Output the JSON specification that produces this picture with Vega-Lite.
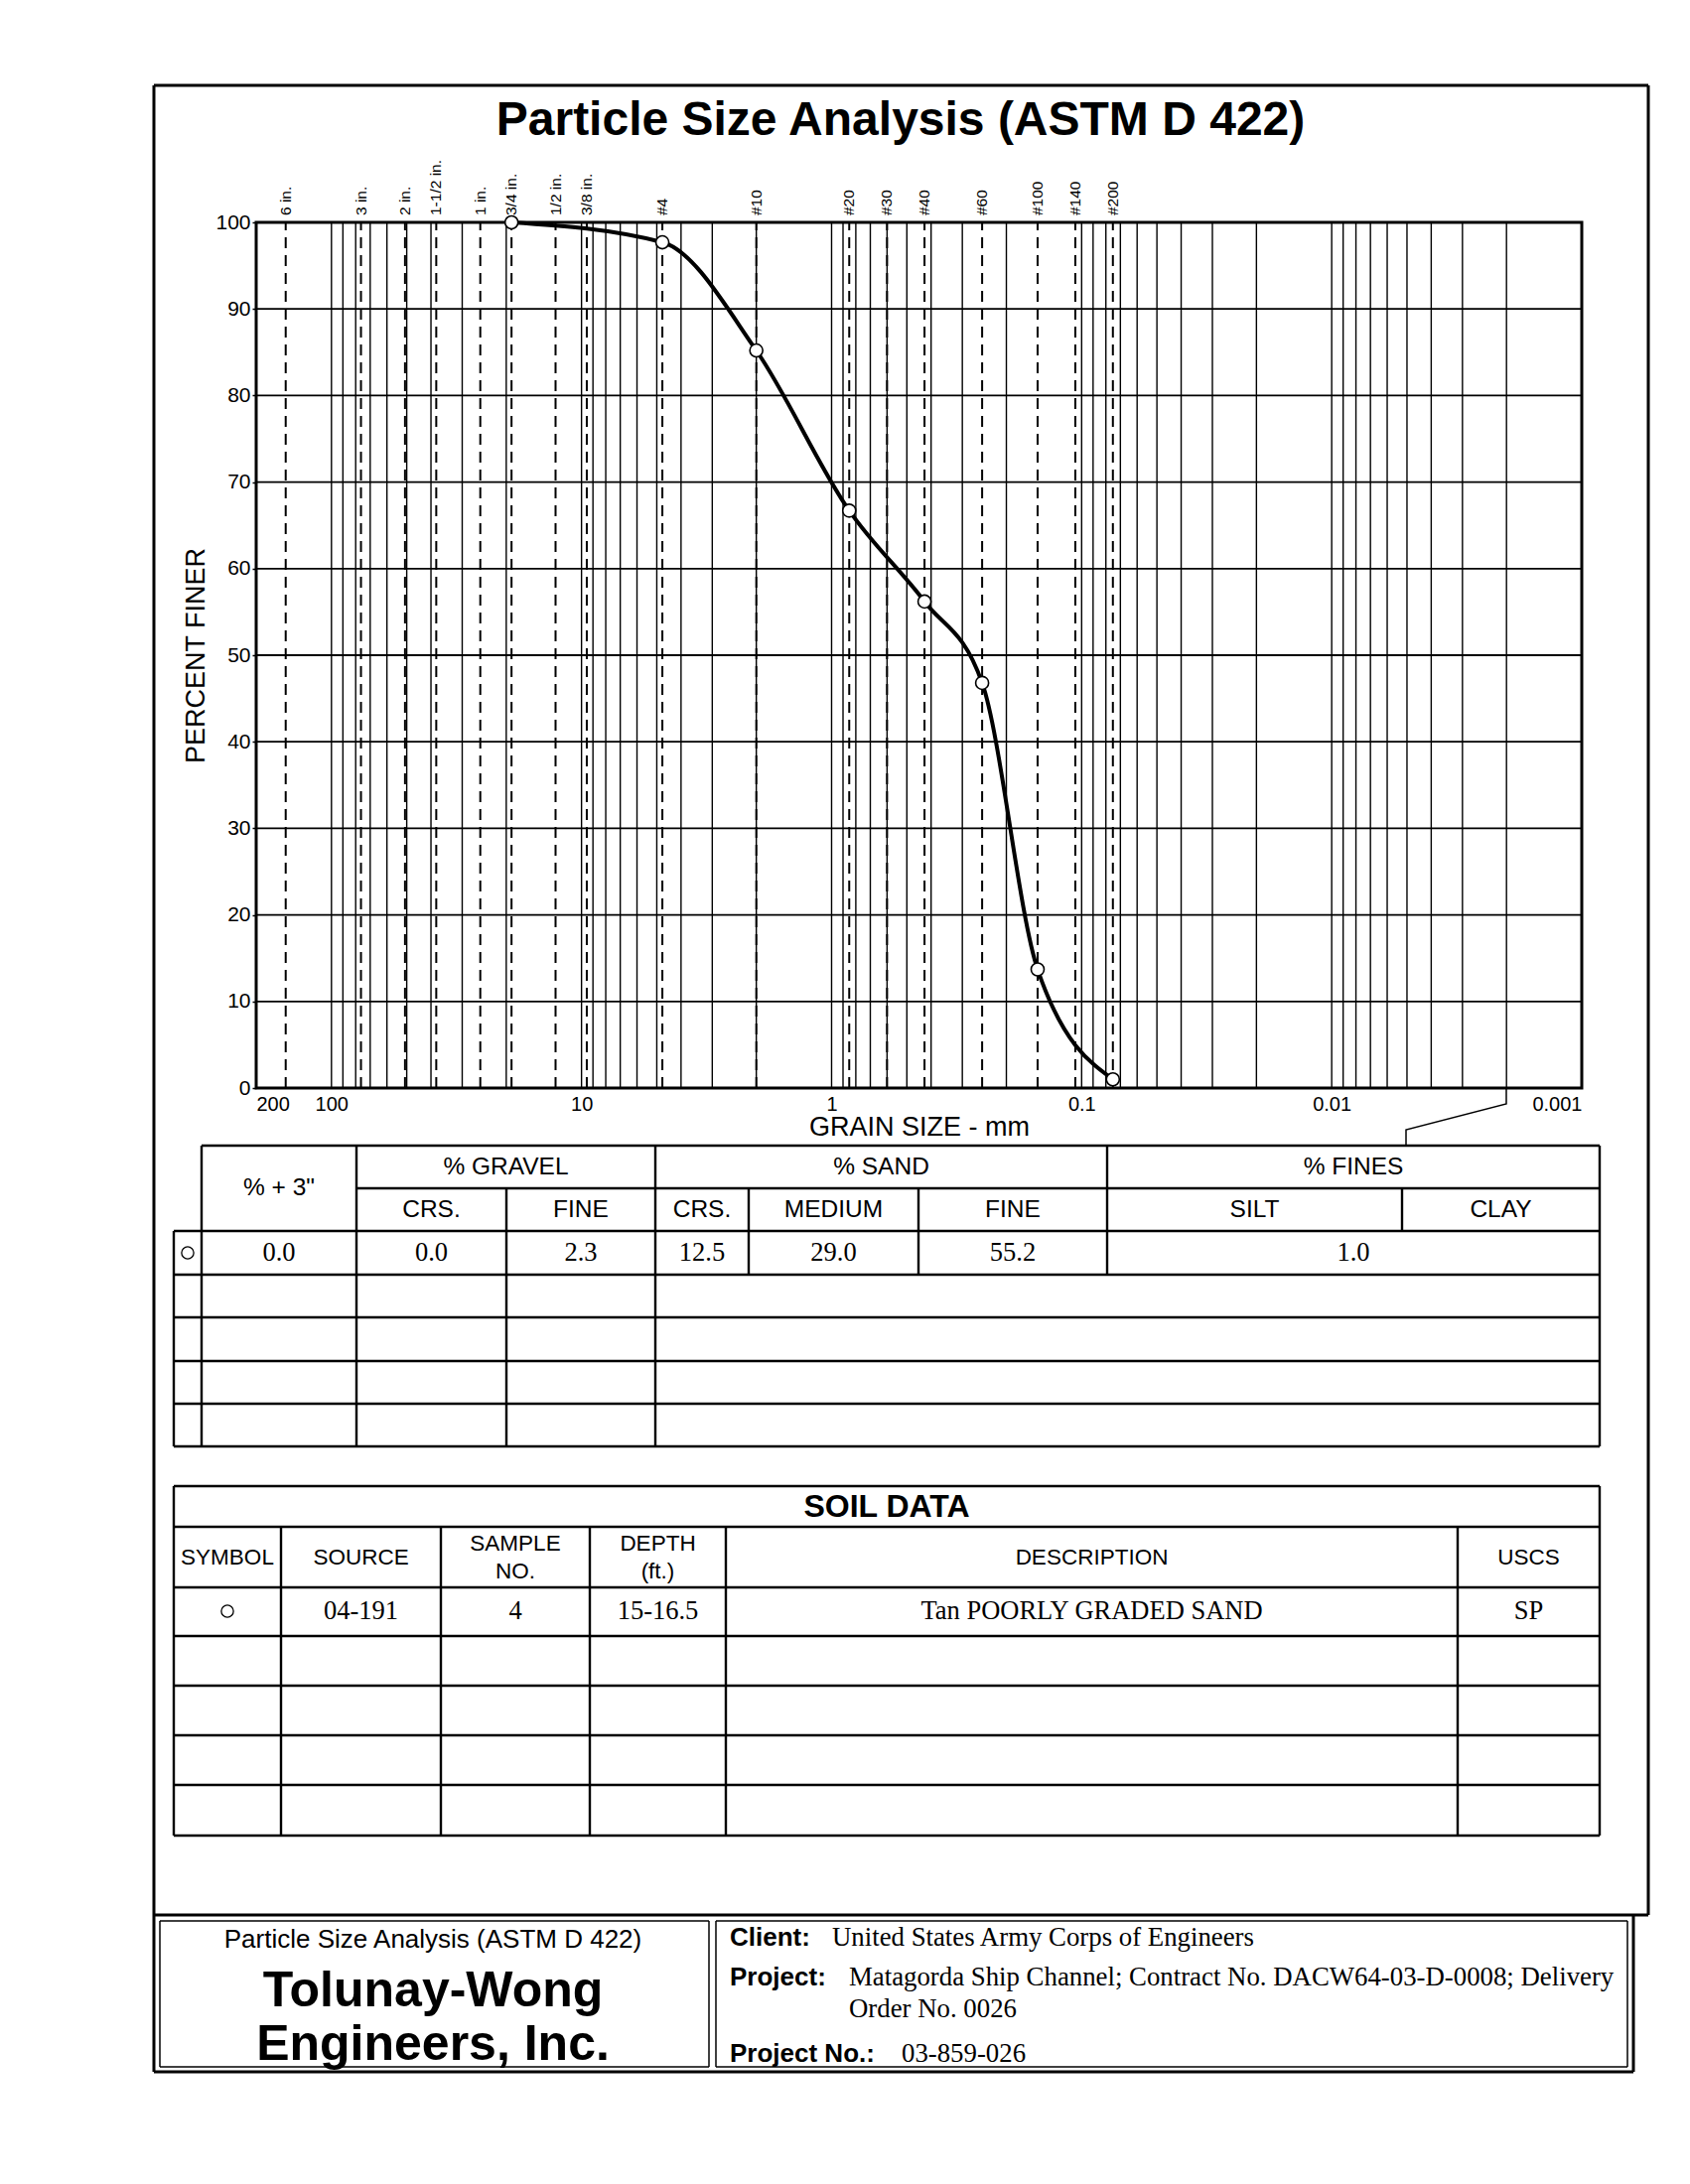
{
  "$schema": "https://vega.github.io/schema/vega-lite/v6.json",
  "autosize": {"type": "none"},
  "padding": {"left": 258, "top": 224, "right": 109, "bottom": 1104},
  "width": 1335,
  "height": 872,
  "background": "white",
  "config": {
    "view": {"stroke": "black", "strokeWidth": 3},
    "font": "Liberation Sans"
  },
  "datasets": {
    "vgrid": [
      {"size": 100}, {"size": 90}, {"size": 80}, {"size": 70}, {"size": 60}, {"size": 50}, {"size": 40}, {"size": 30}, {"size": 20},
      {"size": 10}, {"size": 9}, {"size": 8}, {"size": 7}, {"size": 6}, {"size": 5}, {"size": 4}, {"size": 3}, {"size": 2},
      {"size": 1}, {"size": 0.9}, {"size": 0.8}, {"size": 0.7}, {"size": 0.6}, {"size": 0.5}, {"size": 0.4}, {"size": 0.3}, {"size": 0.2},
      {"size": 0.1}, {"size": 0.09}, {"size": 0.08}, {"size": 0.07}, {"size": 0.06}, {"size": 0.05}, {"size": 0.04}, {"size": 0.03}, {"size": 0.02},
      {"size": 0.01}, {"size": 0.009}, {"size": 0.008}, {"size": 0.007}, {"size": 0.006}, {"size": 0.005}, {"size": 0.004}, {"size": 0.003}, {"size": 0.002}
    ],
    "hgrid": [
      {"pct": 10}, {"pct": 20}, {"pct": 30}, {"pct": 40}, {"pct": 50}, {"pct": 60}, {"pct": 70}, {"pct": 80}, {"pct": 90}
    ],
    "sieves": [
      {"name": "6 in.", "size": 152.4},
      {"name": "3 in.", "size": 76.2},
      {"name": "2 in.", "size": 50.8},
      {"name": "1-1/2 in.", "size": 38.1},
      {"name": "1 in.", "size": 25.4},
      {"name": "3/4 in.", "size": 19.05},
      {"name": "1/2 in.", "size": 12.7},
      {"name": "3/8 in.", "size": 9.525},
      {"name": "#4", "size": 4.75},
      {"name": "#10", "size": 2.0},
      {"name": "#20", "size": 0.85},
      {"name": "#30", "size": 0.6},
      {"name": "#40", "size": 0.425},
      {"name": "#60", "size": 0.25},
      {"name": "#100", "size": 0.15},
      {"name": "#140", "size": 0.106},
      {"name": "#200", "size": 0.075}
    ],
    "test": [
      {"size": 19.05, "pct": 100},
      {"size": 4.75, "pct": 97.7},
      {"size": 2.0, "pct": 85.2},
      {"size": 0.85, "pct": 66.7},
      {"size": 0.425, "pct": 56.2},
      {"size": 0.25, "pct": 46.8},
      {"size": 0.15, "pct": 13.7},
      {"size": 0.075, "pct": 1.0}
    ],
    "frame": [
      {"x": 155, "y": 86, "x2": 1660, "y2": 86},
      {"x": 155, "y": 86, "x2": 155, "y2": 2087},
      {"x": 1660, "y": 86, "x2": 1660, "y2": 1929},
      {"x": 155, "y": 1929, "x2": 1660, "y2": 1929},
      {"x": 155, "y": 2087, "x2": 1645, "y2": 2087},
      {"x": 1645, "y": 1929, "x2": 1645, "y2": 2087}
    ],
    "thin": [
      {"x": 161, "y": 1935, "x2": 714, "y2": 1935},
      {"x": 161, "y": 2082, "x2": 714, "y2": 2082},
      {"x": 161, "y": 1935, "x2": 161, "y2": 2082},
      {"x": 714, "y": 1935, "x2": 714, "y2": 2082},
      {"x": 721, "y": 1935, "x2": 1639, "y2": 1935},
      {"x": 721, "y": 2082, "x2": 1639, "y2": 2082},
      {"x": 721, "y": 1935, "x2": 721, "y2": 2082},
      {"x": 1639, "y": 1935, "x2": 1639, "y2": 2082}
    ],
    "tlines": [
      {"x": 203, "x2": 1611, "y": 1154, "y2": 1154},
      {"x": 359, "x2": 1611, "y": 1197, "y2": 1197},
      {"x": 175, "x2": 1611, "y": 1240, "y2": 1240},
      {"x": 175, "x2": 1611, "y": 1284, "y2": 1284},
      {"x": 175, "x2": 1611, "y": 1327, "y2": 1327},
      {"x": 175, "x2": 1611, "y": 1371, "y2": 1371},
      {"x": 175, "x2": 1611, "y": 1414, "y2": 1414},
      {"x": 175, "x2": 1611, "y": 1457, "y2": 1457},
      {"x": 175, "x2": 175, "y": 1240, "y2": 1457},
      {"x": 203, "x2": 203, "y": 1154, "y2": 1457},
      {"x": 359, "x2": 359, "y": 1154, "y2": 1457},
      {"x": 510, "x2": 510, "y": 1197, "y2": 1457},
      {"x": 660, "x2": 660, "y": 1154, "y2": 1457},
      {"x": 754, "x2": 754, "y": 1197, "y2": 1284},
      {"x": 925, "x2": 925, "y": 1197, "y2": 1284},
      {"x": 1115, "x2": 1115, "y": 1154, "y2": 1284},
      {"x": 1412, "x2": 1412, "y": 1197, "y2": 1240},
      {"x": 1611, "x2": 1611, "y": 1154, "y2": 1457},
      {"x": 175, "x2": 1611, "y": 1497, "y2": 1497},
      {"x": 175, "x2": 1611, "y": 1538, "y2": 1538},
      {"x": 175, "x2": 1611, "y": 1599, "y2": 1599},
      {"x": 175, "x2": 1611, "y": 1648, "y2": 1648},
      {"x": 175, "x2": 1611, "y": 1698, "y2": 1698},
      {"x": 175, "x2": 1611, "y": 1748, "y2": 1748},
      {"x": 175, "x2": 1611, "y": 1798, "y2": 1798},
      {"x": 175, "x2": 1611, "y": 1849, "y2": 1849},
      {"x": 175, "x2": 175, "y": 1497, "y2": 1849},
      {"x": 1611, "x2": 1611, "y": 1497, "y2": 1849},
      {"x": 283, "x2": 283, "y": 1538, "y2": 1849},
      {"x": 444, "x2": 444, "y": 1538, "y2": 1849},
      {"x": 594, "x2": 594, "y": 1538, "y2": 1849},
      {"x": 731, "x2": 731, "y": 1538, "y2": 1849},
      {"x": 1468, "x2": 1468, "y": 1538, "y2": 1849}
    ],
    "leader": [
      {"step": 1, "x": 1517, "y": 1096},
      {"step": 2, "x": 1517, "y": 1112},
      {"step": 3, "x": 1416, "y": 1138},
      {"step": 4, "x": 1416, "y": 1154}
    ],
    "symbols": [
      {"x": 189, "y": 1262},
      {"x": 229, "y": 1623}
    ],
    "texts": [
      {"role": "title", "text": "Particle Size Analysis (ASTM D 422)", "x": 907, "y": 122},
      {"role": "hdr", "text": "% + 3\"", "x": 281, "y": 1197},
      {"role": "hdr", "text": "% GRAVEL", "x": 509.5, "y": 1176},
      {"role": "hdr", "text": "% SAND", "x": 887.5, "y": 1176},
      {"role": "hdr", "text": "% FINES", "x": 1363, "y": 1176},
      {"role": "hdr", "text": "CRS.", "x": 434.5, "y": 1219},
      {"role": "hdr", "text": "FINE", "x": 585, "y": 1219},
      {"role": "hdr", "text": "CRS.", "x": 707, "y": 1219},
      {"role": "hdr", "text": "MEDIUM", "x": 839.5, "y": 1219},
      {"role": "hdr", "text": "FINE", "x": 1020, "y": 1219},
      {"role": "hdr", "text": "SILT", "x": 1263.5, "y": 1219},
      {"role": "hdr", "text": "CLAY", "x": 1511.5, "y": 1219},
      {"role": "val", "text": "0.0", "x": 281, "y": 1262},
      {"role": "val", "text": "0.0", "x": 434.5, "y": 1262},
      {"role": "val", "text": "2.3", "x": 585, "y": 1262},
      {"role": "val", "text": "12.5", "x": 707, "y": 1262},
      {"role": "val", "text": "29.0", "x": 839.5, "y": 1262},
      {"role": "val", "text": "55.2", "x": 1020, "y": 1262},
      {"role": "val", "text": "1.0", "x": 1363, "y": 1262},
      {"role": "soiltitle", "text": "SOIL DATA", "x": 893, "y": 1518},
      {"role": "soilhdr", "text": "SYMBOL", "x": 229, "y": 1569},
      {"role": "soilhdr", "text": "SOURCE", "x": 363.5, "y": 1569},
      {"role": "soilhdr", "text": "SAMPLE", "x": 519, "y": 1555},
      {"role": "soilhdr", "text": "NO.", "x": 519, "y": 1583},
      {"role": "soilhdr", "text": "DEPTH", "x": 662.5, "y": 1555},
      {"role": "soilhdr", "text": "(ft.)", "x": 662.5, "y": 1583},
      {"role": "soilhdr", "text": "DESCRIPTION", "x": 1099.5, "y": 1569},
      {"role": "soilhdr", "text": "USCS", "x": 1539.5, "y": 1569},
      {"role": "val", "text": "04-191", "x": 363.5, "y": 1623},
      {"role": "val", "text": "4", "x": 519, "y": 1623},
      {"role": "val", "text": "15-16.5", "x": 662.5, "y": 1623},
      {"role": "val", "text": "Tan POORLY GRADED SAND", "x": 1099.5, "y": 1623},
      {"role": "val", "text": "SP", "x": 1539.5, "y": 1623},
      {"role": "foothead", "text": "Particle Size Analysis (ASTM D 422)", "x": 436, "y": 1954},
      {"role": "company", "text": "Tolunay-Wong", "x": 436, "y": 2006},
      {"role": "company", "text": "Engineers, Inc.", "x": 436, "y": 2060},
      {"role": "label", "text": "Client:", "x": 735, "y": 1952},
      {"role": "info", "text": "United States Army Corps of Engineers", "x": 838, "y": 1952},
      {"role": "label", "text": "Project:", "x": 735, "y": 1992},
      {"role": "info", "text": "Matagorda Ship Channel; Contract No. DACW64-03-D-0008;  Delivery", "x": 855, "y": 1992},
      {"role": "info", "text": "Order No. 0026", "x": 855, "y": 2024},
      {"role": "label", "text": "Project No.:", "x": 735, "y": 2069},
      {"role": "info", "text": "03-859-026", "x": 908, "y": 2069}
    ]
  },
  "layer": [
    {
      "layer": [
        {
          "data": {"name": "hgrid"},
          "mark": {"type": "rule", "color": "black", "strokeWidth": 1.8},
          "encoding": {
            "y": {"field": "pct", "type": "quantitative",
                  "scale": {"domain": [0, 100], "nice": false, "zero": false},
                  "axis": {"title": "PERCENT FINER", "values": [0, 10, 20, 30, 40, 50, 60, 70, 80, 90, 100],
                           "grid": false, "domain": false, "tickSize": 4, "tickColor": "black", "tickWidth": 1.5,
                           "labelFont": "Liberation Sans", "labelFontSize": 21, "labelColor": "black", "labelPadding": 2,
                           "titleFont": "Liberation Sans", "titleFontSize": 27, "titleFontWeight": "normal", "titleColor": "black", "titlePadding": 5}},
            "x": {"datum": 0.001, "type": "quantitative",
                  "scale": {"type": "log", "domain": [0.001, 200], "reverse": true, "nice": false},
                  "axis": {"title": "GRAIN SIZE - mm", "values": [200, 100, 10, 1, 0.1, 0.01, 0.001],
                           "labelExpr": "toString(datum.value)", "labelFlush": true,
                           "grid": false, "domain": false, "ticks": false,
                           "labelFont": "Liberation Sans", "labelFontSize": 20, "labelColor": "black", "labelPadding": 6,
                           "titleFont": "Liberation Sans", "titleFontSize": 27, "titleFontWeight": "normal", "titleColor": "black", "titlePadding": 0}},
            "x2": {"datum": 200}
          }
        },
        {
          "data": {"name": "vgrid"},
          "mark": {"type": "rule", "color": "black", "strokeWidth": 1.4},
          "encoding": {
            "x": {"field": "size", "type": "quantitative"},
            "y": {"datum": 0, "type": "quantitative"},
            "y2": {"datum": 100}
          }
        },
        {
          "data": {"name": "sieves"},
          "mark": {"type": "rule", "color": "black", "strokeWidth": 2, "strokeDash": [11, 7]},
          "encoding": {
            "x": {"field": "size", "type": "quantitative"},
            "y": {"datum": 0, "type": "quantitative"},
            "y2": {"datum": 100}
          }
        },
        {
          "data": {"name": "sieves"},
          "mark": {"type": "text", "angle": 270, "align": "left", "baseline": "middle", "dx": 7,
                   "font": "Liberation Sans", "fontSize": 15.5, "color": "black"},
          "encoding": {
            "x": {"field": "size", "type": "quantitative"},
            "y": {"datum": 100, "type": "quantitative"},
            "text": {"field": "name"}
          }
        },
        {
          "data": {"name": "test"},
          "mark": {"type": "line", "interpolate": "monotone", "color": "black", "strokeWidth": 4},
          "encoding": {
            "x": {"field": "size", "type": "quantitative"},
            "y": {"field": "pct", "type": "quantitative"},
            "order": {"field": "size", "sort": "descending"}
          }
        },
        {
          "data": {"name": "test"},
          "mark": {"type": "point", "shape": "circle", "filled": true, "fill": "white", "stroke": "black",
                   "strokeWidth": 1.6, "size": 170, "opacity": 1},
          "encoding": {
            "x": {"field": "size", "type": "quantitative"},
            "y": {"field": "pct", "type": "quantitative"}
          }
        }
      ]
    },
    {
      "layer": [
        {
          "data": {"name": "frame"},
          "mark": {"type": "rule", "color": "black", "strokeWidth": 3},
          "encoding": {
            "x": {"field": "x", "type": "quantitative", "scale": {"domain": [258, 1593], "nice": false, "zero": false}, "axis": null},
            "y": {"field": "y", "type": "quantitative", "scale": {"domain": [224, 1096], "nice": false, "zero": false, "reverse": true}, "axis": null},
            "x2": {"field": "x2"},
            "y2": {"field": "y2"}
          }
        },
        {
          "data": {"name": "thin"},
          "mark": {"type": "rule", "color": "black", "strokeWidth": 1.5},
          "encoding": {
            "x": {"field": "x", "type": "quantitative", "axis": null},
            "y": {"field": "y", "type": "quantitative", "axis": null},
            "x2": {"field": "x2"},
            "y2": {"field": "y2"}
          }
        },
        {
          "data": {"name": "tlines"},
          "mark": {"type": "rule", "color": "black", "strokeWidth": 2.4},
          "encoding": {
            "x": {"field": "x", "type": "quantitative", "axis": null},
            "y": {"field": "y", "type": "quantitative", "axis": null},
            "x2": {"field": "x2"},
            "y2": {"field": "y2"}
          }
        },
        {
          "data": {"name": "leader"},
          "mark": {"type": "line", "color": "black", "strokeWidth": 1.5},
          "encoding": {
            "x": {"field": "x", "type": "quantitative", "axis": null},
            "y": {"field": "y", "type": "quantitative", "axis": null},
            "order": {"field": "step"}
          }
        },
        {
          "data": {"name": "symbols"},
          "mark": {"type": "point", "shape": "circle", "filled": false, "stroke": "black", "strokeWidth": 1.3, "size": 150, "opacity": 1},
          "encoding": {
            "x": {"field": "x", "type": "quantitative", "axis": null},
            "y": {"field": "y", "type": "quantitative", "axis": null}
          }
        },
        {
          "data": {"name": "texts"},
          "transform": [{"filter": "datum.role === 'title'"}],
          "mark": {"type": "text", "font": "Liberation Sans", "fontSize": 48, "fontWeight": "bold", "align": "center", "baseline": "middle", "color": "black"},
          "encoding": {
            "x": {"field": "x", "type": "quantitative", "axis": null},
            "y": {"field": "y", "type": "quantitative", "axis": null},
            "text": {"field": "text"}
          }
        },
        {
          "data": {"name": "texts"},
          "transform": [{"filter": "datum.role === 'hdr'"}],
          "mark": {"type": "text", "font": "Liberation Sans", "fontSize": 24.5, "align": "center", "baseline": "middle", "color": "black"},
          "encoding": {
            "x": {"field": "x", "type": "quantitative", "axis": null},
            "y": {"field": "y", "type": "quantitative", "axis": null},
            "text": {"field": "text"}
          }
        },
        {
          "data": {"name": "texts"},
          "transform": [{"filter": "datum.role === 'soilhdr'"}],
          "mark": {"type": "text", "font": "Liberation Sans", "fontSize": 22.5, "align": "center", "baseline": "middle", "color": "black"},
          "encoding": {
            "x": {"field": "x", "type": "quantitative", "axis": null},
            "y": {"field": "y", "type": "quantitative", "axis": null},
            "text": {"field": "text"}
          }
        },
        {
          "data": {"name": "texts"},
          "transform": [{"filter": "datum.role === 'soiltitle'"}],
          "mark": {"type": "text", "font": "Liberation Sans", "fontSize": 32, "fontWeight": "bold", "align": "center", "baseline": "middle", "color": "black"},
          "encoding": {
            "x": {"field": "x", "type": "quantitative", "axis": null},
            "y": {"field": "y", "type": "quantitative", "axis": null},
            "text": {"field": "text"}
          }
        },
        {
          "data": {"name": "texts"},
          "transform": [{"filter": "datum.role === 'val'"}],
          "mark": {"type": "text", "font": "Liberation Serif", "fontSize": 26.5, "align": "center", "baseline": "middle", "color": "black"},
          "encoding": {
            "x": {"field": "x", "type": "quantitative", "axis": null},
            "y": {"field": "y", "type": "quantitative", "axis": null},
            "text": {"field": "text"}
          }
        },
        {
          "data": {"name": "texts"},
          "transform": [{"filter": "datum.role === 'foothead'"}],
          "mark": {"type": "text", "font": "Liberation Sans", "fontSize": 26, "align": "center", "baseline": "middle", "color": "black"},
          "encoding": {
            "x": {"field": "x", "type": "quantitative", "axis": null},
            "y": {"field": "y", "type": "quantitative", "axis": null},
            "text": {"field": "text"}
          }
        },
        {
          "data": {"name": "texts"},
          "transform": [{"filter": "datum.role === 'company'"}],
          "mark": {"type": "text", "font": "Liberation Sans", "fontSize": 50, "fontWeight": "bold", "align": "center", "baseline": "middle", "color": "black"},
          "encoding": {
            "x": {"field": "x", "type": "quantitative", "axis": null},
            "y": {"field": "y", "type": "quantitative", "axis": null},
            "text": {"field": "text"}
          }
        },
        {
          "data": {"name": "texts"},
          "transform": [{"filter": "datum.role === 'label'"}],
          "mark": {"type": "text", "font": "Liberation Sans", "fontSize": 26, "fontWeight": "bold", "align": "left", "baseline": "middle", "color": "black"},
          "encoding": {
            "x": {"field": "x", "type": "quantitative", "axis": null},
            "y": {"field": "y", "type": "quantitative", "axis": null},
            "text": {"field": "text"}
          }
        },
        {
          "data": {"name": "texts"},
          "transform": [{"filter": "datum.role === 'info'"}],
          "mark": {"type": "text", "font": "Liberation Serif", "fontSize": 26.8, "align": "left", "baseline": "middle", "color": "black"},
          "encoding": {
            "x": {"field": "x", "type": "quantitative", "axis": null},
            "y": {"field": "y", "type": "quantitative", "axis": null},
            "text": {"field": "text"}
          }
        }
      ]
    }
  ],
  "resolve": {"scale": {"x": "independent", "y": "independent"}}
}
